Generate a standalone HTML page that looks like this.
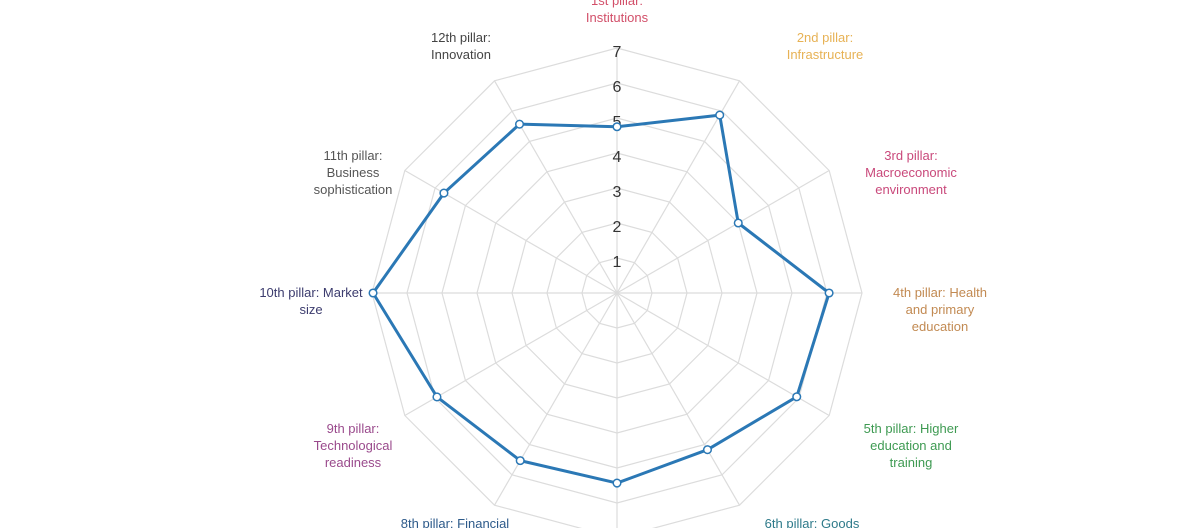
<!DOCTYPE html>
<html><head><meta charset="utf-8"><style>
body{margin:0;background:#fff;}
svg{display:block;font-family:"Liberation Sans",sans-serif;}
</style></head><body>
<svg width="1200" height="528" viewBox="0 0 1200 528">
<g id="grid"></g>
<g id="ticks"></g>
<g id="series"></g>
<g id="labels" font-size="13" text-anchor="middle"></g>
</svg>
<script>
const categories=["1st pillar: Institutions","2nd pillar: Infrastructure","3rd pillar: Macroeconomic environment","4th pillar: Health and primary education","5th pillar: Higher education and training","6th pillar: Goods market efficiency","7th pillar: Labor market efficiency","8th pillar: Financial market development","9th pillar: Technological readiness","10th pillar: Market size","11th pillar: Business sophistication","12th pillar: Innovation"];
const values=[4.75,5.87,4.0,6.06,5.93,5.17,5.43,5.53,5.94,6.97,5.71,5.57];
const tickLabels=[1,2,3,4,5,6,7];
const maxVal=7;
const cx=617,cy=293,R=245;
const NS="http://www.w3.org/2000/svg";
function rScale(v){return v/maxVal*R;}
function pt(i,v){const a=i/categories.length*2*Math.PI;return [cx+rScale(v)*Math.sin(a),cy-rScale(v)*Math.cos(a)];}
function mk(tag,attrs,parent){const e=document.createElementNS(NS,tag);for(const k in attrs)e.setAttribute(k,attrs[k]);parent.appendChild(e);return e;}
const grid=document.getElementById('grid');
tickLabels.forEach(t=>{
  const p=categories.map((c,i)=>pt(i,t).join(',')).join(' ');
  const e=mk('polygon',{points:p,fill:'none',stroke:'#dcdcdc','stroke-width':1.2},grid);
  
  
});
categories.forEach((c,i)=>{
  const [x,y]=pt(i,maxVal);
  const e=mk('line',{x1:cx,y1:cy,x2:x,y2:y,stroke:'#dcdcdc','stroke-width':1.2},grid);
  
  
});
const ticks=document.getElementById('ticks');
tickLabels.forEach(t=>{
  const e=mk('text',{x:cx,y:cy-rScale(t)+9,'font-size':16,fill:'#333','text-anchor':'middle'},ticks);
  e.textContent=t;
  
  
});
const series=document.getElementById('series');
const line=mk('polygon',{points:values.map((v,i)=>pt(i,v).join(',')).join(' '),fill:'none',stroke:'#2b78b5','stroke-width':3,'stroke-linejoin':'round'},series);


values.forEach((v,i)=>{
  const [x,y]=pt(i,v);
  const e=mk('circle',{cx:x,cy:y,r:3.8,fill:'#fff',stroke:'#2b78b5','stroke-width':1.5},series);
  
  
});
const labelDefs=[
 [617,["1st pillar:","Institutions"],'#d24f69',5],
 [825,["2nd pillar:","Infrastructure"],'#e7b255',42],
 [911,["3rd pillar:","Macroeconomic","environment"],'#c9497b',160],
 [940,["4th pillar: Health","and primary","education"],'#c28a52',297],
 [911,["5th pillar: Higher","education and","training"],'#3e9a52',433],
 [812,["6th pillar: Goods"],'#2e7a8a',528],
 [455,["8th pillar: Financial"],'#2d5a8a',528],
 [353,["9th pillar:","Technological","readiness"],'#9a4a8c',433],
 [311,["10th pillar: Market","size"],'#3c3c6e',297],
 [353,["11th pillar:","Business","sophistication"],'#555',160],
 [461,["12th pillar:","Innovation"],'#444',42]
];
const labels=document.getElementById('labels');
labelDefs.forEach(d=>{
  const t=mk('text',{x:d[0],y:d[3],fill:d[2]},labels);
  d[1].forEach((s,j)=>{const ts=mk('tspan',{x:d[0],dy:j?17:0},t);ts.textContent=s;});
  
  
});
</script>
</body></html>
